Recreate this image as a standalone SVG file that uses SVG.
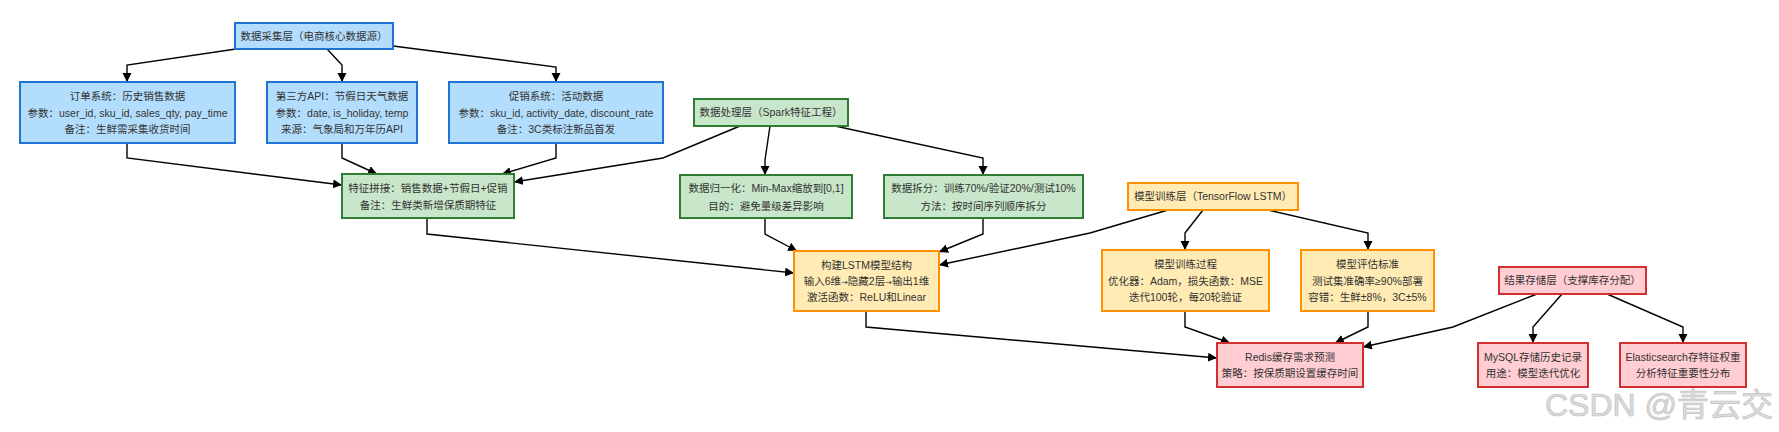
<svg xmlns="http://www.w3.org/2000/svg" width="1779" height="432" viewBox="0 0 1779 432">
<style>
text{font-family:"Liberation Sans","Noto Sans CJK SC",sans-serif;font-size:10.5px;fill:#333;text-anchor:middle}
.ar{font-family:"DejaVu Sans",sans-serif;font-size:8px}
.blue rect{fill:#b3ddfc;stroke:#1e76d3;stroke-width:2}
.green rect{fill:#c8e6c9;stroke:#2e7d32;stroke-width:2}
.orange rect{fill:#ffebb3;stroke:#ff9100;stroke-width:2}
.red rect{fill:#ffcdd2;stroke:#d32f2f;stroke-width:2}
#edges path{fill:none;stroke:#000;stroke-width:1.4;marker-end:url(#arr)}
.wm{font-size:32px;fill:#dcdcdc;stroke:#c2c2c2;stroke-width:0.7;text-anchor:start}
</style>
<defs>
<marker id="arr" markerUnits="userSpaceOnUse" markerWidth="10" markerHeight="10" refX="9" refY="4.5" orient="auto">
<path d="M0,0 L9,4.5 L0,9 Z" fill="#000"/>
</marker>
</defs>
<rect width="1779" height="432" fill="#fff"/>
<g id="edges">
<path d="M236,49 L127,65 L127,82"/>
<path d="M327,49 L342,65 L342,82"/>
<path d="M393,46 L556,67 L556,82"/>
<path d="M127,143 L127,158 L342,185"/>
<path d="M342,143 L342,158 L377,174"/>
<path d="M556,143 L556,158 L502,174"/>
<path d="M740,126 L663,158 L514,182"/>
<path d="M770,126 L765,160 L765,175"/>
<path d="M835,126 L983,158 L983,175"/>
<path d="M427,218 L427,234 L794,273"/>
<path d="M765,218 L765,234 L797,251"/>
<path d="M983,218 L983,234 L939,252"/>
<path d="M1168,210 L1090,233 L939,265"/>
<path d="M1203,210 L1185,233 L1185,250"/>
<path d="M1268,210 L1368,233 L1368,250"/>
<path d="M866,311 L866,327 L1217,358"/>
<path d="M1185,311 L1185,327 L1230,343"/>
<path d="M1368,311 L1368,327 L1335,343"/>
<path d="M1537,294 L1453,327 L1363,347"/>
<path d="M1562,294 L1533,327 L1533,343"/>
<path d="M1607,294 L1683,327 L1683,343"/>
</g>
<g id="collect" class="blue"><rect x="235" y="23" width="158" height="26"/><text x="314" y="39.7">数据采集层（电商核心数据源）</text></g>
<g id="order" class="blue"><rect x="20" y="82" width="215" height="61"/>
<text x="127.5" y="100.2">订单系统：历史销售数据</text>
<text x="127.5" y="116.5">参数：user_id, sku_id, sales_qty, pay_time</text>
<text x="127.5" y="132.8">备注：生鲜需采集收货时间</text></g>
<g id="thirdapi" class="blue"><rect x="267" y="82" width="150" height="61"/>
<text x="342" y="100.2">第三方API：节假日天气数据</text>
<text x="342" y="116.5">参数：date, is_holiday, temp</text>
<text x="342" y="132.8">来源：气象局和万年历API</text></g>
<g id="promo" class="blue"><rect x="449" y="82" width="214" height="61"/>
<text x="556" y="100.2">促销系统：活动数据</text>
<text x="556" y="116.5">参数：sku_id, activity_date, discount_rate</text>
<text x="556" y="132.8">备注：3C类标注新品首发</text></g>
<g id="concat" class="green"><rect x="342" y="174" width="172" height="44"/>
<text x="428" y="191.8">特征拼接：销售数据+节假日+促销</text>
<text x="428" y="209.2">备注：生鲜类新增保质期特征</text></g>
<g id="process-layer" class="green"><rect x="694" y="99" width="154" height="27"/><text x="771" y="116.2">数据处理层（Spark特征工程）</text></g>
<g id="normalize" class="green"><rect x="680" y="175" width="172" height="43"/>
<text x="766" y="192.3">数据归一化：Min-Max缩放到[0,1]</text>
<text x="766" y="209.5">目的：避免量级差异影响</text></g>
<g id="split" class="green"><rect x="884" y="175" width="199" height="43"/>
<text x="983.5" y="192.3">数据拆分：训练70%/验证20%/测试10%</text>
<text x="983.5" y="209.5">方法：按时间序列顺序拆分</text></g>
<g id="lstm" class="orange"><rect x="794" y="251" width="145" height="60"/>
<text x="866.5" y="268.8">构建LSTM模型结构</text>
<text x="866.5" y="285">输入6维<tspan class="ar">→</tspan>隐藏2层<tspan class="ar">→</tspan>输出1维</text>
<text x="866.5" y="301.3">激活函数：ReLU和Linear</text></g>
<g id="train-layer" class="orange"><rect x="1128" y="183" width="170" height="27"/><text x="1213" y="200.2">模型训练层（TensorFlow LSTM）</text></g>
<g id="train-process" class="orange"><rect x="1102" y="250" width="167" height="61"/>
<text x="1185.5" y="268.2">模型训练过程</text>
<text x="1185.5" y="284.5">优化器：Adam，损失函数：MSE</text>
<text x="1185.5" y="300.8">迭代100轮，每20轮验证</text></g>
<g id="eval" class="orange"><rect x="1301" y="250" width="133" height="61"/>
<text x="1367.5" y="268.2">模型评估标准</text>
<text x="1367.5" y="284.5">测试集准确率≥90%部署</text>
<text x="1367.5" y="300.8">容错：生鲜±8%，3C±5%</text></g>
<g id="redis" class="red"><rect x="1217" y="343" width="146" height="44"/>
<text x="1290" y="360.8">Redis缓存需求预测</text>
<text x="1290" y="377.2">策略：按保质期设置缓存时间</text></g>
<g id="result-layer" class="red"><rect x="1499" y="267" width="147" height="27"/><text x="1572.5" y="284.2">结果存储层（支撑库存分配）</text></g>
<g id="mysql" class="red"><rect x="1478" y="343" width="110" height="44"/>
<text x="1533" y="360.8">MySQL存储历史记录</text>
<text x="1533" y="377.2">用途：模型迭代优化</text></g>
<g id="es" class="red"><rect x="1620" y="343" width="126" height="44"/>
<text x="1683" y="360.8">Elasticsearch存特征权重</text>
<text x="1683" y="377.2">分析特征重要性分布</text></g>
<text class="wm" x="1545" y="416">CSDN @青云交</text>
</svg>
